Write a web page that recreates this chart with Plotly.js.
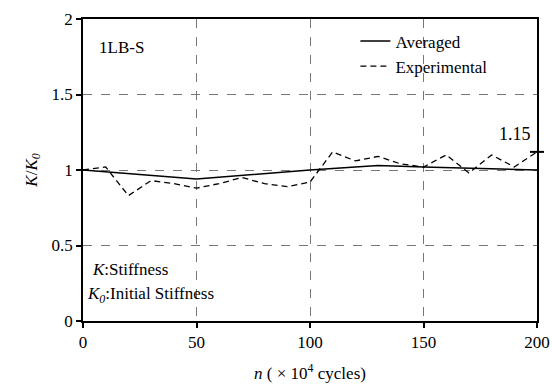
<!DOCTYPE html>
<html>
<head>
<meta charset="utf-8">
<script src="https://cdn.plot.ly/plotly-3.0.1.min.js"></script>
<style>
html,body{margin:0;padding:0;background:#fff;overflow:hidden;}
#chart{width:552px;height:385px;}
</style>
</head>
<body>
<div id="chart"></div>
<script>
const cycles = [0,10,20,30,40,50,60,70,80,90,100,110,120,130,140,150,160,170,180,190,200];
const experimental = [1.0,1.02,0.83,0.93,0.91,0.88,0.91,0.95,0.91,0.89,0.92,1.12,1.06,1.09,1.04,1.02,1.10,0.98,1.10,1.02,1.12];
const avgCycles = [0,50,100,130,150,200];
const averaged = [1.0,0.94,1.0,1.03,1.02,1.0];
const xTicks = [0,50,100,150,200];
const yTicks = [0,0.5,1,1.5,2];
const yTickLabels = ['0','0.5','1','1.5','2'];
const specimen = '1LB-S';
const endLabel = '1.15';

const FAM = 'Times New Roman';
function f(size) { return {family: FAM, size: size}; }
const last = cycles.length - 1;

const traces = [
  {x: avgCycles, y: averaged, mode: 'lines', name: 'Averaged',
   line: {color: '#000', width: 1.5}},
  {x: cycles, y: experimental, mode: 'lines', name: 'Experimental',
   line: {color: '#000', width: 1.3, dash: '6px,4px'}},
  {x: [cycles[last]], y: [experimental[last]], mode: 'markers', showlegend: false,
   marker: {symbol: 'line-ew', size: 10, line: {color: '#000', width: 2}}, cliponaxis: false}
];

const layout = {
  width: 552, height: 385,
  margin: {l: 83, r: 15, t: 19, b: 64},
  paper_bgcolor: '#fff', plot_bgcolor: '#fff',
  font: {family: FAM, size: 17, color: '#000'},
  showlegend: true,
  legend: {x: 0.6, y: 0.985, xanchor: 'left', yanchor: 'top', bgcolor: 'rgba(0,0,0,0)',
           font: f(17), tracegroupgap: 0},
  xaxis: {
    range: [0, 200], tickvals: xTicks, ticks: 'outside', ticklen: 5, tickwidth: 1.5,
    tickcolor: '#000', showline: true, linecolor: '#000', linewidth: 1.5, mirror: true,
    showgrid: true, gridcolor: '#777', griddash: 'dash', gridwidth: 1, zeroline: false,
    tickfont: f(17),
    title: {text: '<i>n</i> ( × 10<sup>4</sup> cycles)', font: f(17), standoff: 16}
  },
  yaxis: {
    range: [0, 2], tickvals: yTicks, ticktext: yTickLabels, ticks: 'outside', ticklen: 5, tickwidth: 1.5,
    tickcolor: '#000', showline: true, linecolor: '#000', linewidth: 1.5, mirror: true,
    showgrid: true, gridcolor: '#777', griddash: 'dash', gridwidth: 1, zeroline: false,
    tickfont: f(17),
    title: {text: '<i>K</i>/<i>K</i><sub><i>0</i></sub>', font: f(17), standoff: 10}
  },
  annotations: [
    {x: 0.03, y: 0.905, xref: 'paper', yref: 'paper', text: specimen, showarrow: false,
     xanchor: 'left', yanchor: 'middle', font: f(17)},
    {x: 0.015, y: 0.17, xref: 'paper', yref: 'paper', text: '<i>K</i>:Stiffness', showarrow: false,
     xanchor: 'left', yanchor: 'middle', font: f(17)},
    {x: 0.005, y: 0.085, xref: 'paper', yref: 'paper', text: '<i>K</i><sub><i>0</i></sub>:Initial Stiffness', showarrow: false,
     xanchor: 'left', yanchor: 'middle', font: f(17)},
    {x: cycles[last], y: experimental[last], xref: 'x', yref: 'y', text: endLabel, showarrow: false,
     xanchor: 'right', yanchor: 'bottom', xshift: -4, yshift: 6, font: f(18)}
  ]
};

Plotly.newPlot('chart', traces, layout, {displayModeBar: false});
</script>
</body>
</html>
